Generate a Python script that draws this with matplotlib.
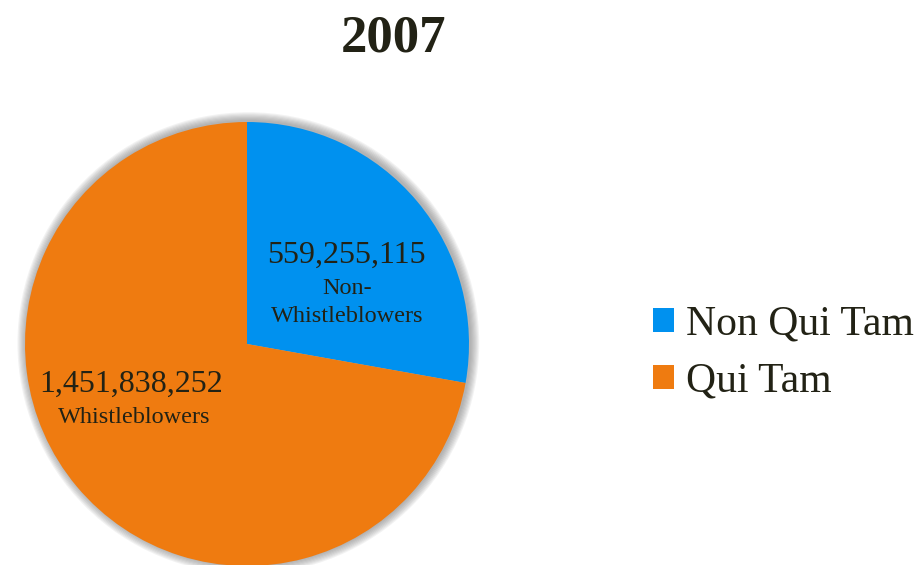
import matplotlib.pyplot as plt
from matplotlib.patches import Circle

# 2007 recoveries
labels = ['Non Qui Tam', 'Qui Tam']
values = [559255115, 1451838252]
amounts = ['559,255,115', '1,451,838,252']
colors = ['#0091ef', '#ef7b10']

plt.rcParams['font.family'] = ['Liberation Serif', 'DejaVu Serif']
txt = '#222215'

fig = plt.figure(figsize=(9.21, 5.65), dpi=100)
ax = fig.add_axes([(247 - 222 * 1.05) / 921, (565 - 344 - 222 * 1.05) / 565,
                   444 * 1.05 / 921, 444 * 1.05 / 565])

wedges, _ = ax.pie(values, colors=colors, startangle=90, counterclock=False,
                   radius=1.0, wedgeprops=dict(linewidth=0))
for w in wedges:
    w.set_zorder(2)

# soft shadow round the pie
for i in range(8):
    ax.add_patch(Circle((0.006, 0.004), 1.0 + 0.005 * (i + 1), color='#777777',
                        alpha=0.09, lw=0, zorder=0))

ax.set_xlim(-1.05, 1.05)
ax.set_ylim(-1.05, 1.05)
ax.set_aspect('equal')
ax.axis('off')

ax.text(0.45, 0.40, amounts[0], ha='center', va='center', fontsize=23, color=txt, zorder=3)
ax.text(0.45, 0.25, 'Non-', ha='center', va='center', fontsize=17.5, color=txt, zorder=3)
ax.text(0.45, 0.125, 'Whistleblowers', ha='center', va='center', fontsize=17.5, color=txt, zorder=3)
ax.text(-0.52, -0.18, amounts[1], ha='center', va='center', fontsize=23, color=txt, zorder=3)
ax.text(-0.51, -0.33, 'Whistleblowers', ha='center', va='center', fontsize=17.5, color=txt, zorder=3)

fig.text(393 / 921, 1 - 38 / 565, '2007', ha='center', va='center', fontsize=38,
         fontweight='bold', color=txt)

leg = fig.legend(wedges, labels, loc='center left', bbox_to_anchor=(653 / 921, 1 - 353 / 565),
                 frameon=False, fontsize=30, handlelength=0.5, handleheight=0.5,
                 handletextpad=0.3, labelspacing=0.45, borderaxespad=0, borderpad=0)
for t in leg.get_texts():
    t.set_color(txt)

fig.savefig('out.png', dpi=100)
